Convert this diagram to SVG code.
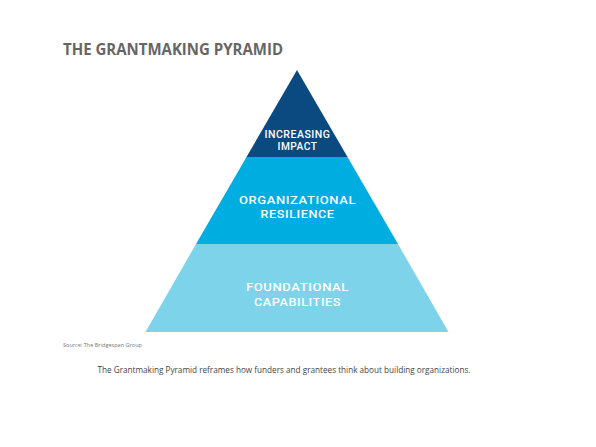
<svg xmlns="http://www.w3.org/2000/svg" width="596" height="447" viewBox="0 0 596 447">
<style>
.lbl{font-family:Roboto,"Liberation Sans",sans-serif;font-weight:500;fill:#ffffff;text-anchor:middle;letter-spacing:0.5px}
</style>
<rect width="596" height="447" fill="#ffffff"/>
<text x="63" y="55" font-family="'Open Sans','Liberation Sans',sans-serif" font-weight="700" font-size="15.5" fill="#666666" textLength="220" lengthAdjust="spacingAndGlyphs">THE GRANTMAKING PYRAMID</text>
<g id="top">
<polygon points="297,70 347.5,157 246.5,157" fill="#0b4a80"/>
<text class="lbl" x="297.5" y="137.5" font-size="10.5" textLength="66" lengthAdjust="spacingAndGlyphs">INCREASING</text>
<text class="lbl" x="297.5" y="150" font-size="10.5" textLength="40" lengthAdjust="spacingAndGlyphs">IMPACT</text>
</g>
<g id="middle">
<polygon points="246.5,157 347.5,157 398,244 196,244" fill="#00ade0"/>
<text class="lbl" x="297.5" y="203.5" font-size="11.5" textLength="117" lengthAdjust="spacingAndGlyphs">ORGANIZATIONAL</text>
<text class="lbl" x="297.5" y="218" font-size="11.5" textLength="74" lengthAdjust="spacingAndGlyphs">RESILIENCE</text>
</g>
<g id="bottom">
<polygon points="196,244 398,244 448.5,332 145.5,332" fill="#7dd3ea"/>
<text class="lbl" x="297.5" y="291" font-size="11.5" textLength="103" lengthAdjust="spacingAndGlyphs">FOUNDATIONAL</text>
<text class="lbl" x="297.5" y="305.5" font-size="11.5" textLength="87" lengthAdjust="spacingAndGlyphs">CAPABILITIES</text>
</g>
<g id="connectors"/>
<text x="63" y="347" font-family="'Open Sans','Liberation Sans',sans-serif" font-size="5.5" fill="#777777" textLength="79" lengthAdjust="spacingAndGlyphs">Source: The Bridgespan Group</text>
<text x="97.5" y="373" font-family="'Open Sans','Liberation Sans',sans-serif" font-size="9.5" fill="#444444" textLength="373" lengthAdjust="spacingAndGlyphs">The Grantmaking Pyramid reframes how funders and grantees think about building organizations.</text>
</svg>
